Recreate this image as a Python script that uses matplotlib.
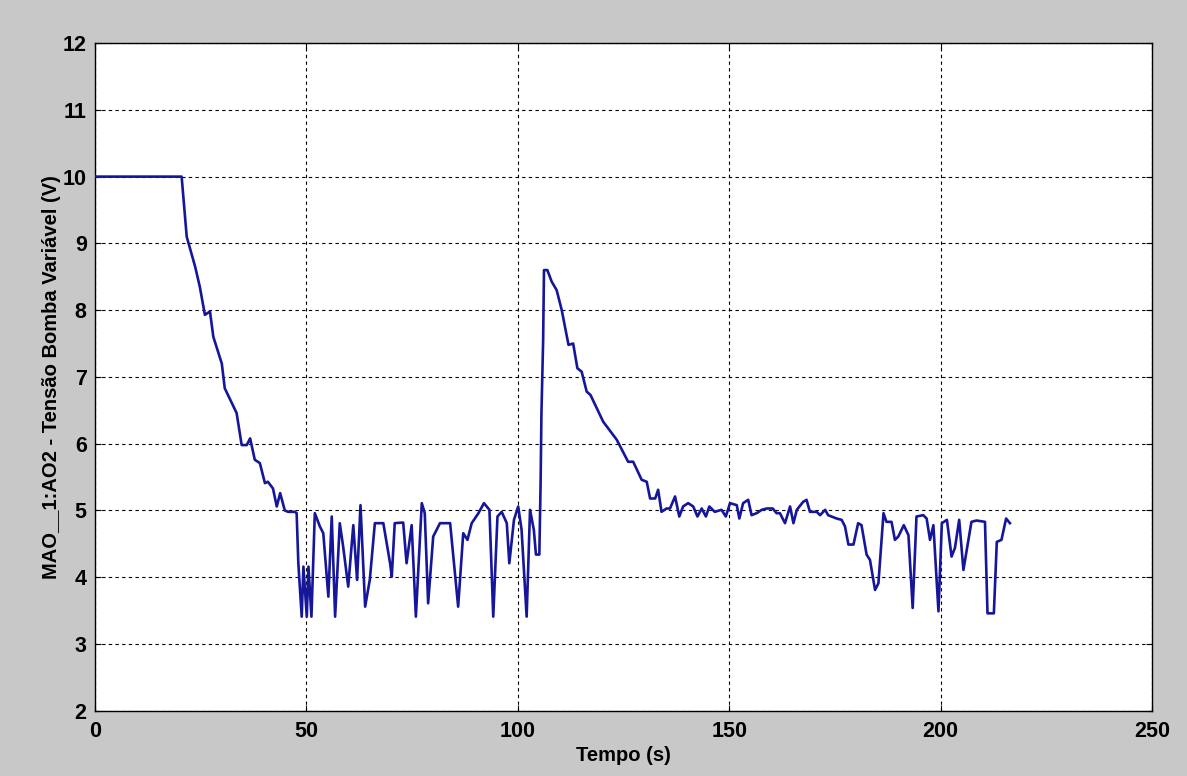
import matplotlib.pyplot as plt

tempo = [0, 20.5, 21.7, 23.7, 24.8, 26.0, 27.2, 28.0, 30.0, 30.7, 33.5, 34.7, 35.9, 36.7,
         37.8, 39.0, 40.2, 40.9, 42.1, 43.0, 43.8, 44.9, 45.7, 47.3, 47.7, 48.1, 48.9,
         49.3, 50.1, 50.5, 51.2, 52.0, 53.2, 54.0, 55.2, 56.0, 56.8, 57.9, 58.7, 59.9,
         61.1, 62.0, 62.8, 63.9, 65.0, 66.2, 68.2, 69.8, 70.2, 70.9, 72.9, 73.7, 74.9,
         75.9, 77.3, 78.0, 78.8, 80.0, 81.6, 84.0, 85.9, 87.1, 88.1, 89.1, 90.7, 92.0,
         93.3, 94.2, 95.2, 96.2, 97.4, 98.0, 99.1, 100.1, 100.9, 102.1, 102.9, 103.8,
         104.3, 105.1, 105.4, 105.6, 106.0, 106.2, 107.0, 108.0, 109.2, 110.4, 112.0,
         113.1, 114.1, 115.1, 116.3, 117.2, 120.2, 123.4, 126.1, 127.3, 129.3, 130.5,
         131.3, 132.5, 133.2, 134.0, 135.2, 136.0, 137.2, 138.2, 139.1, 140.3, 141.5,
         142.5, 143.5, 144.5, 145.3, 146.6, 148.2, 149.2, 150.2, 151.8, 152.4, 153.3,
         154.5, 155.3, 156.5, 157.7, 158.9, 160.3, 161.2, 162.0, 163.2, 164.4, 165.2,
         166.0, 167.5, 168.3, 169.1, 170.7, 171.5, 172.7, 173.4, 175.4, 176.6, 177.4,
         178.2, 179.4, 180.5, 181.3, 182.5, 183.3, 184.5, 185.3, 186.5, 187.2, 188.4,
         189.2, 190.0, 191.3, 192.4, 193.4, 194.3, 195.9, 196.7, 197.5, 198.3, 199.5,
         200.3, 201.5, 202.6, 203.4, 204.4, 205.4, 207.3, 208.5, 210.5, 211.1, 212.6,
         213.3, 214.4, 215.5, 216.4]
tensao = [10.0, 10.0, 9.1, 8.65, 8.35, 7.93, 7.98, 7.6, 7.2, 6.83, 6.46, 5.98, 5.98, 6.08,
          5.76, 5.71, 5.41, 5.43, 5.33, 5.06, 5.26, 5.0, 4.98, 4.98, 4.96, 4.21, 3.41,
          4.16, 3.41, 4.16, 3.41, 4.96, 4.76, 4.66, 3.71, 4.91, 3.41, 4.81, 4.46, 3.86,
          4.78, 3.96, 5.08, 3.56, 3.96, 4.81, 4.81, 4.21, 4.01, 4.81, 4.82, 4.21, 4.78,
          3.41, 5.11, 4.96, 3.61, 4.61, 4.81, 4.81, 3.56, 4.66, 4.56, 4.81, 4.96, 5.11,
          5.01, 3.41, 4.91, 4.98, 4.81, 4.21, 4.86, 5.06, 4.71, 3.41, 5.01, 4.71,
          4.34, 4.34, 5.41, 6.46, 7.55, 8.6, 8.6, 8.43, 8.3, 8.0, 7.48,
          7.5, 7.13, 7.08, 6.78, 6.73, 6.33, 6.06, 5.73, 5.73, 5.46, 5.43,
          5.18, 5.18, 5.31, 4.98, 5.03, 5.03, 5.21, 4.91, 5.06, 5.11, 5.06,
          4.91, 5.03, 4.91, 5.06, 4.98, 5.01, 4.91, 5.11, 5.08, 4.88, 5.11,
          5.16, 4.93, 4.96, 5.01, 5.03, 5.03, 4.96, 4.96, 4.81, 5.06, 4.81,
          5.01, 5.13, 5.16, 4.98, 4.98, 4.93, 5.01, 4.93, 4.88, 4.86, 4.76,
          4.49, 4.49, 4.81, 4.78, 4.34, 4.26, 3.81, 3.91, 4.96, 4.83, 4.83,
          4.56, 4.61, 4.78, 4.63, 3.54, 4.91, 4.93, 4.88, 4.56, 4.78, 3.49,
          4.81, 4.86, 4.31, 4.44, 4.86, 4.11, 4.83, 4.85, 4.83, 3.46, 3.46,
          4.53, 4.56, 4.88, 4.81]

x_ticks = [0, 50, 100, 150, 200, 250]
y_ticks = [2, 3, 4, 5, 6, 7, 8, 9, 10, 11, 12]

plt.rcParams['font.family'] = ['Liberation Sans', 'DejaVu Sans']
plt.rcParams['font.weight'] = 'bold'

fig = plt.figure(figsize=(11.87, 7.76), dpi=100, facecolor='#c8c8c8')
ax = fig.add_axes([0.080, 0.084, 0.8905, 0.8605])
ax.set_facecolor('white')

ax.plot(tempo, tensao, color='#16169a', linewidth=1.9, zorder=3)

ax.set_xlim(0, 250)
ax.set_ylim(2, 12)
ax.set_xticks(x_ticks)
ax.set_yticks(y_ticks)
ax.grid(True, color='black', linestyle=(0, (3, 3)), linewidth=0.8)
ax.tick_params(direction='in', top=True, right=True, length=4, labelsize=15.5)
ax.tick_params(axis='x', pad=7)
ax.tick_params(axis='y', pad=6)
for s in ax.spines.values():
    s.set_linewidth(1.0)

ax.set_xlabel('Tempo (s)', fontsize=14.5, fontweight='bold', labelpad=3)
ax.set_ylabel('MAO__1:AO2 - Tensão Bomba Variável (V)', fontsize=14.5, fontweight='bold', labelpad=1)

fig.savefig('out.png', dpi=100, facecolor=fig.get_facecolor())
